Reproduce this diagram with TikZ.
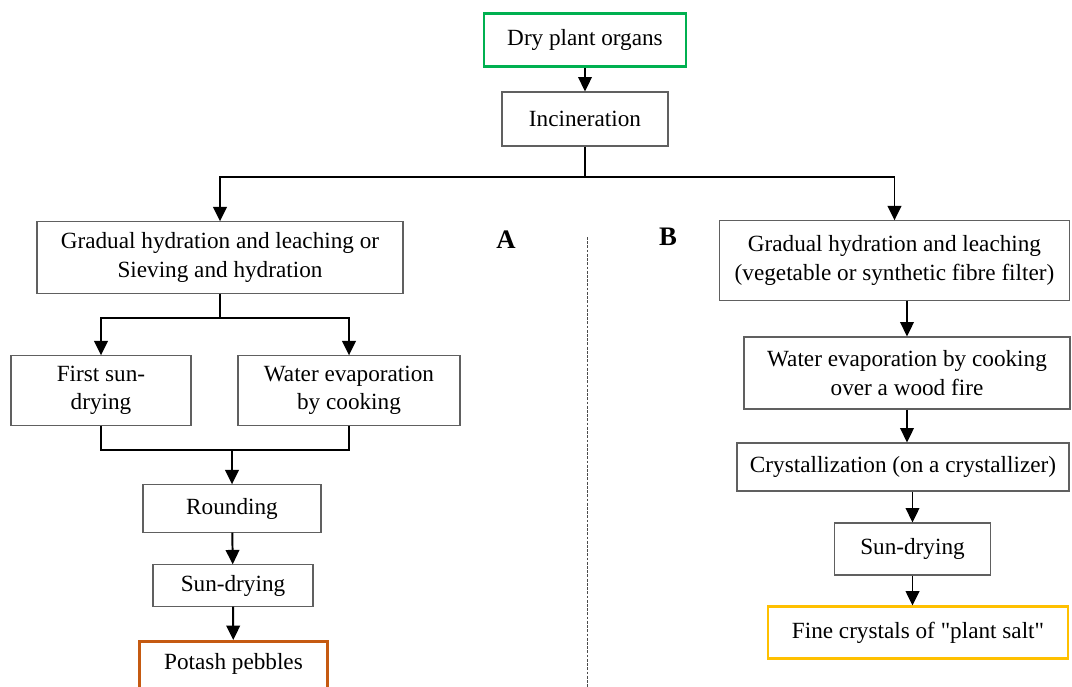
\documentclass[tikz,border=0pt]{standalone}
\usepackage{fontspec}
\setmainfont{Liberation Serif}
\usetikzlibrary{arrows.meta}

\definecolor{startgreen}{RGB}{0,176,80}
\definecolor{endorange}{RGB}{197,90,17}
\definecolor{endamber}{RGB}{255,192,0}

\begin{document}
\begin{tikzpicture}[x=0.025cm, y=-0.025cm,
	every node/.style={font=\fontsize{16.5}{20}\selectfont},
	stage/.style={draw=gray!75!black, line width=0.8pt, align=center, inner sep=2pt},
	conn/.style={line width=1.4pt},
	arr/.style={conn, -{Triangle[length=3.6mm, width=3.4mm]}},
	tag/.style={font=\fontsize{19}{22}\selectfont\bfseries}]
	\useasboundingbox (0,0) rectangle (1072,686);
	% top
	\node[stage, draw=startgreen, line width=2pt, minimum width=5.05cm, minimum height=1.33cm] (dry) at (585,40) {Dry plant organs};
	\node[stage, minimum width=4.15cm, minimum height=1.35cm] (incin) at (585,119) {Incineration};
	% way A
	\node[stage, minimum width=9.15cm, minimum height=1.78cm] (leachA) at (220,257.5) {Gradual hydration and leaching or\\ Sieving and hydration};
	\node[stage, minimum width=4.5cm, minimum height=1.73cm] (firstsun) at (101,390.5) {First sun-\\ drying};
	\node[stage, minimum width=5.55cm, minimum height=1.73cm] (evapA) at (349,390.5) {Water evaporation\\ by cooking};
	\node[stage, minimum width=4.45cm, minimum height=1.18cm] (round) at (232,508.5) {Rounding};
	\node[stage, minimum width=4cm, minimum height=1.03cm] (sunA) at (233,585.5) {Sun-drying};
	\node[stage, draw=endorange, line width=2pt, anchor=north, minimum width=4.68cm, inner ysep=9pt, text height=11pt, text depth=30pt] (potash) at (233.5,640) {Potash pebbles};
	% way B
	\node[stage, minimum width=8.73cm, minimum height=1.98cm] (leachB) at (894.5,260.5) {Gradual hydration and leaching\\ (vegetable or synthetic fibre filter)};
	\node[stage, minimum width=8.15cm, minimum height=1.8cm] (evapB) at (907,373) {Water evaporation by cooking\\ over a wood fire};
	\node[stage, minimum width=8.3cm, minimum height=1.2cm] (cryst) at (903,467) {Crystallization (on a crystallizer)};
	\node[stage, minimum width=3.88cm, minimum height=1.3cm] (sunB) at (912.5,549) {Sun-drying};
	\node[stage, draw=endamber, line width=2pt, minimum width=7.5cm, minimum height=1.28cm] (fine) at (918,632.5) {Fine crystals of \textquotedbl plant salt\textquotedbl};
	% labels and separator
	\node[tag] (tagA) at (506,240) {A};
	\node[tag] (tagB) at (668,237) {B};
	\coordinate (sepTop) at (587,237);
	\coordinate (sepBot) at (587,690);
	\draw[gray!60!black, line width=0.6pt, dash pattern=on 2pt off 1pt] (sepTop) -- (sepBot);
	% connectors
	\coordinate (splitTop) at (585,177);
	\coordinate (splitA) at (220,318);
	\coordinate (joinA) at (232,450);
	\draw[arr] (dry) -- (incin);
	\draw[conn] (incin) -- (splitTop);
	\draw[arr] (splitTop) -| (leachA);
	\draw[arr] (splitTop) -| (leachB);
	\draw[conn] (leachA) -- (splitA);
	\draw[arr] (splitA) -| (firstsun);
	\draw[arr] (splitA) -| (evapA);
	\draw[conn] (firstsun) |- (joinA) -| (evapA);
	\draw[arr] (joinA) -- (round);
	\draw[arr] (round) -- (sunA);
	\draw[arr] (sunA) -- (potash);
	\draw[arr] (evapB.north |- leachB.south) -- (evapB);
	\draw[arr] (evapB.south) -- (evapB.south |- cryst.north);
	\draw[arr] (sunB.north |- cryst.south) -- (sunB);
	\draw[arr] (sunB.south) -- (sunB.south |- fine.north);
\end{tikzpicture}
\end{document}
